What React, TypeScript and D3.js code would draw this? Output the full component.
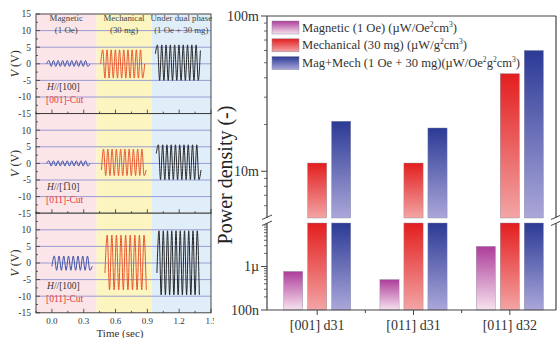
import React from "react";
import * as d3 from "d3";

// ---------- Right chart data ----------
const categories = ["[001] d31", "[011] d31", "[011] d32"];
const seriesNames = [
  "Magnetic (1 Oe) (\u00b5W/Oe\u00b2cm\u00b3)",
  "Mechanical (30 mg) (\u00b5W/g\u00b2cm\u00b3)",
  "Mag+Mech (1 Oe + 30 mg)(\u00b5W/Oe\u00b2g\u00b2cm\u00b3)",
];
const magnetic = [7.7e-7, 5.0e-7, 2.9e-6];
const mechanical = [11.3e-3, 11.3e-3, 42.5e-3];
const magMech = [21e-3, 19e-3, 60e-3];
const upperTicks = [0.1, 0.01];
const upperTickLabels = ["100m", "10m"];
const lowerTicks = [1e-6, 1e-7];
const lowerTickLabels = ["1\u00b5", "100n"];

// ---------- Left chart data (waveform extrema, V) ----------
const timeTicks = [0.0, 0.3, 0.6, 0.9, 1.2, 1.5];
const voltTicks = [15, 10, 5, 0, -5, -10, -15];
const phaseLabels = [
  ["Magnetic", "(1 Oe)"],
  ["Mechanical", "(30 mg)"],
  ["Under dual phase", "(1 Oe + 30 mg)"],
];
const phaseBounds = [0.42, 0.94];
const directionLabels = ["[100]", "[1\u030510]", "[100]"];
const cutLabels = ["[001]-Cut", "[011]-Cut", "[011]-Cut"];

// panel 1
const p1Mag = [0, 1, -0.8, 1, -0.8, 1, -0.8, 1, -0.8, 1, -0.8, 1, -0.8, 1, -0.8, 1, -0.8, 1, -0.8, 0];
const p1Mech = [0, 4.2, -4.3, 4.2, -4.3, 4.2, -4.3, 4.2, -4.3, 4.2, -4.3, 4.2, -4.3, 4.2, -4.3, 4.2, -4.3, 4.2, -4.3, 4.2, -4.3, 0];
const p1Dual = [3, 5.7, -5.0, 5.7, -5.0, 5.7, -5.0, 5.7, -5.0, 5.7, -5.0, 5.7, -5.0, 5.7, -5.0, 5.7, -5.0, 5.7, -5.0, 5.7, -5.0, 4];
// panel 2
const p2Mag = [0, 0.8, -0.8, 0.8, -0.8, 0.8, -0.8, 0.8, -0.8, 0.8, -0.8, 0.8, -0.8, 0.8, -0.8, 0.8, -0.8, 0.8, -0.8, 0];
const p2Mech = [-2, 4.3, -3.7, 4.3, -3.7, 4.3, -3.7, 4.3, -3.7, 4.3, -3.7, 4.3, -3.7, 4.3, -3.7, 4.3, -3.7, 4.3, -3.7, 4.3, -3.7, -2];
const p2Dual = [3, 5.6, -4.9, 5.6, -4.9, 5.6, -4.9, 5.6, -4.9, 5.6, -4.9, 5.6, -4.9, 5.6, -4.9, 5.6, -4.9, 5.6, -4.9, 5.6, -4.9, -2];
// panel 3
const p3Mag = [-1, 2.1, -2.2, 2.1, -2.2, 2.1, -2.2, 2.1, -2.2, 2.1, -2.2, 2.1, -2.2, 2.1, -2.2, 2.1, -2.2, -1];
const p3Mech = [-3, 8.4, -8.1, 8.4, -8.1, 8.4, -8.1, 8.4, -8.1, 8.4, -8.1, 8.4, -8.1, 8.4, -8.1, 8.4, -8.1, 8.4, -8.1];
const p3Dual = [-3, 9.7, -9.6, 9.7, -9.6, 9.7, -9.6, 9.7, -9.6, 9.7, -9.6, 9.7, -9.6, 9.7, -9.6, 9.7, -9.6, 9.7, -9.6, 9.7, -9.6];

const waveSpans = [
  [[-0.05, 0.36], [0.46, 0.875], [0.975, 1.4]],
  [[-0.05, 0.36], [0.467, 0.889], [0.984, 1.406]],
  [[0.0, 0.38], [0.5, 0.89], [0.99, 1.39]],
];
const waveData = [
  [p1Mag, p1Mech, p1Dual],
  [p2Mag, p2Mech, p2Dual],
  [p3Mag, p3Mech, p3Dual],
];
const waveColors = ["#3b4fa6", "#e8542c", "#262626"];

const FONT = "'Liberation Serif', 'Times New Roman', serif";

function withSupers(s: string) {
  const parts: React.ReactNode[] = [];
  let buf = "";
  let k = 0;
  let pendingDy = 0;
  const flush = () => {
    if (buf) {
      parts.push(
        <tspan key={k++} dy={pendingDy || undefined}>
          {buf}
        </tspan>
      );
      pendingDy = 0;
    }
    buf = "";
  };
  for (const ch of s) {
    if (ch === "\u00b2" || ch === "\u00b3") {
      flush();
      parts.push(
        <tspan key={k++} fontSize="0.6em" dy={-5 + pendingDy}>
          {ch === "\u00b2" ? "2" : "3"}
        </tspan>
      );
      pendingDy = 5;
    } else buf += ch;
  }
  flush();
  return parts;
}

function LeftChart() {
  const x0 = 36, x1 = 211;
  const top = 14, ph = 99.6;
  const t = d3.scaleLinear().domain([-0.15, 1.5]).range([x0, x1]);
  const line = d3.line<[number, number]>().curve(d3.curveMonotoneX);
  const minorT = d3.range(-0.15, 1.5001, 0.15);
  const minorV = d3.range(-15, 15.01, 2.5);
  return (
    <g>
      {[0, 1, 2].map((p) => {
        const py = top + p * ph;
        const y = d3.scaleLinear().domain([-15, 15]).range([py + ph, py]);
        const bounds = [x0, t(phaseBounds[0]), t(phaseBounds[1]), x1];
        const bg = ["#fce5e9", "#fcf5c0", "#e0eef9"];
        return (
          <g key={p}>
            {bg.map((c, i) => (
              <rect key={i} x={bounds[i]} y={py} width={bounds[i + 1] - bounds[i]} height={ph} fill={c} />
            ))}
            {[10, 5, 0, -5, -10].map((v) => (
              <line key={v} x1={x0} x2={x1} y1={y(v)} y2={y(v)} stroke="#8e93cf" strokeWidth={0.9} />
            ))}
            {waveData[p].map((vals, w) => {
              const [s, e] = waveSpans[p][w];
              const ts = d3.scaleLinear().domain([0, vals.length - 1]).range([s, e]);
              const pts = vals.map((v, i) => [t(ts(i)), y(v)] as [number, number]);
              return <path key={w} d={line(pts) || ""} fill="none" stroke={waveColors[w]} strokeWidth={1} />;
            })}
            {minorV.map((v, i) => (
              <line key={"yv" + i} x1={x0} x2={x0 + (Math.abs(v % 5) < 0.01 ? 4 : 2)} y1={y(v)} y2={y(v)} stroke="#333" strokeWidth={0.8} />
            ))}
            {minorT.map((v, i) => (
              <line key={"xt" + i} x1={t(v)} x2={t(v)} y1={py + ph} y2={py + ph - (i % 2 === 1 ? 4 : 2)} stroke="#333" strokeWidth={0.8} />
            ))}
            <rect x={x0} y={py} width={x1 - x0} height={ph} fill="none" stroke="#333" strokeWidth={0.9} />
            {voltTicks
              .filter((v) => !(p > 0 && v === 15))
              .map((v) => (
                <text key={v} x={31} y={y(v) + 3.3} fontSize={9.5} textAnchor="end" fill="#333" fontFamily={FONT}>
                  {v}
                </text>
              ))}
            <text
              transform={`translate(${19},${py + ph / 2}) rotate(-90)`}
              fontSize={12}
              textAnchor="middle"
              fill="#333"
              fontFamily={FONT}
            >
              <tspan fontStyle="italic">V</tspan> (V)
            </text>
            {p === 0 &&
              phaseLabels.map((lab, i) => {
                const cx = (bounds[i] + bounds[i + 1]) / 2;
                return (
                  <g key={i}>
                    <text x={cx} y={py + 7} fontSize={8.8} textAnchor="middle" fill="#444" fontFamily={FONT}>
                      {lab[0]}
                    </text>
                    <text x={cx} y={py + 18.5} fontSize={8.8} textAnchor="middle" fill="#444" fontFamily={FONT}>
                      {lab[1]}
                    </text>
                  </g>
                );
              })}
            <text x={47} y={py + 76} fontSize={9.5} fill="#333" fontFamily={FONT}>
              <tspan fontStyle="italic">H</tspan>//{directionLabels[p]}
            </text>
            <text x={46} y={py + 89} fontSize={9.5} fill="#e83a3a" fontFamily={FONT}>
              {cutLabels[p]}
            </text>
          </g>
        );
      })}
      {timeTicks.map((v) => (
        <text key={v} x={t(v)} y={top + 3 * ph + 11} fontSize={9} textAnchor="middle" fill="#333" fontFamily={FONT}>
          {v.toFixed(1)}
        </text>
      ))}
      <text x={120} y={337} fontSize={11} textAnchor="middle" fill="#333" fontFamily={FONT}>
        Time (sec)
      </text>
    </g>
  );
}

function RightChart() {
  const L = 267, R = 556, T = 16, B = 310;
  const gapTop = 218, gapBot = 223;
  const yU = d3.scaleLog().domain([5e-3, 0.1]).range([gapTop, T]);
  const yL = d3.scaleLog().domain([1e-7, 1e-5]).range([B, gapBot]);
  const x = d3.scaleBand().domain(categories).range([269, 558]);
  const xs = d3.scaleBand().domain(seriesNames).range([-36, 36]).paddingInner(0.2).paddingOuter(0.1);
  const series = [magnetic, mechanical, magMech];
  const grads = [
    ["#ad3d9a", "#f7e2ee"],
    ["#e31e1e", "#f3a5a5"],
    ["#2b3a95", "#aba7da"],
  ];
  const legendWidths = [155, 165, 218];
  const minorUpper = [6e-3, 7e-3, 8e-3, 9e-3, 2e-2, 3e-2, 4e-2, 5e-2, 6e-2, 7e-2, 8e-2, 9e-2];
  const minorLower = [2e-7, 3e-7, 4e-7, 5e-7, 6e-7, 7e-7, 8e-7, 9e-7, 2e-6, 3e-6, 4e-6, 5e-6, 6e-6, 7e-6, 8e-6, 9e-6];
  const stroke = "#444";
  return (
    <g>
      <defs>
        {grads.map((g, i) => (
          <linearGradient key={i} id={"g" + i} x1="0" y1="0" x2="0" y2="1">
            <stop offset="0" stopColor={g[0]} />
            <stop offset="1" stopColor={g[1]} />
          </linearGradient>
        ))}
      </defs>
      <rect x={214} y={0} width={346} height={338} fill="#fff" />
      {categories.map((c, ci) => (
        <g key={c}>
          {series.map((vals, si) => {
            const v = vals[ci];
            const bx = (x(c) as number) + x.bandwidth() / 2 + (xs(seriesNames[si]) as number);
            const w = xs.bandwidth();
            const rects: React.ReactNode[] = [];
            if (v > 1e-5) {
              rects.push(<rect key="l" x={bx} y={gapBot} width={w} height={B - gapBot} fill={`url(#g${si})`} stroke="#8a8aa0" strokeWidth={0.4} />);
              rects.push(<rect key="u" x={bx} y={yU(v)} width={w} height={gapTop - yU(v)} fill={`url(#g${si})`} stroke="#8a8aa0" strokeWidth={0.4} />);
            } else {
              rects.push(<rect key="l" x={bx} y={yL(v)} width={w} height={B - yL(v)} fill={`url(#g${si})`} stroke="#8a8aa0" strokeWidth={0.4} />);
            }
            return <g key={si}>{rects}</g>;
          })}
        </g>
      ))}
      {/* frame */}
      <line x1={L} x2={L} y1={T} y2={gapTop} stroke={stroke} strokeWidth={1.2} />
      <line x1={L} x2={L} y1={gapBot} y2={B} stroke={stroke} strokeWidth={1.2} />
      <line x1={R} x2={R} y1={T} y2={gapTop} stroke={stroke} strokeWidth={1.2} />
      <line x1={R} x2={R} y1={gapBot} y2={B} stroke={stroke} strokeWidth={1.2} />
      <line x1={L} x2={R} y1={T} y2={T} stroke={stroke} strokeWidth={1.2} />
      <line x1={L} x2={R} y1={B} y2={B} stroke={stroke} strokeWidth={1.2} />
      {[L, R].map((xx) => (
        <g key={xx}>
          <line x1={xx - 5} x2={xx + 5} y1={gapTop + 1.5} y2={gapTop - 3} stroke={stroke} strokeWidth={1} />
          <line x1={xx - 5} x2={xx + 5} y1={gapBot + 2.5} y2={gapBot - 2} stroke={stroke} strokeWidth={1} />
        </g>
      ))}
      {upperTicks.map((v, i) => (
        <g key={v}>
          <line x1={L - 6} x2={L} y1={yU(v)} y2={yU(v)} stroke={stroke} strokeWidth={1} />
          <text x={L - 8} y={yU(v) + 4.5} fontSize={14} textAnchor="end" fill="#333" fontFamily={FONT}>
            {upperTickLabels[i]}
          </text>
        </g>
      ))}
      {lowerTicks.map((v, i) => (
        <g key={v}>
          <line x1={L - 6} x2={L} y1={yL(v)} y2={yL(v)} stroke={stroke} strokeWidth={1} />
          <text x={L - 8} y={yL(v) + 4.5} fontSize={14} textAnchor="end" fill="#333" fontFamily={FONT}>
            {lowerTickLabels[i]}
          </text>
        </g>
      ))}
      {minorUpper.map((v) => (
        <line key={v} x1={L - 3} x2={L} y1={yU(v)} y2={yU(v)} stroke={stroke} strokeWidth={0.8} />
      ))}
      {minorLower.map((v) => (
        <line key={v} x1={L - 3} x2={L} y1={yL(v)} y2={yL(v)} stroke={stroke} strokeWidth={0.8} />
      ))}
      {categories.map((c, i) => {
        const cx = (x(c) as number) + x.bandwidth() / 2;
        return (
          <g key={c}>
            <line x1={cx} x2={cx} y1={B} y2={B + 5} stroke={stroke} strokeWidth={1} />
            {i > 0 && (
              <line x1={x(c) as number} x2={x(c) as number} y1={B} y2={B + 3} stroke={stroke} strokeWidth={1} />
            )}
            <text x={cx} y={B + 20} fontSize={14} textAnchor="middle" fill="#333" fontFamily={FONT}>
              {c}
            </text>
          </g>
        );
      })}
      <text
        transform={`translate(${232},${175}) rotate(-90)`}
        fontSize={20}
        textAnchor="middle"
        fill="#222"
        fontFamily={FONT}
      >
        Power density (-)
      </text>
      {seriesNames.map((s, i) => {
        const ly = 21 + i * 17.8;
        return (
          <g key={s}>
            <rect x={272} y={ly} width={27} height={13} fill={`url(#g${i})`} stroke="#8a8aa0" strokeWidth={0.5} />
            <text
              x={302}
              y={ly + 10.5}
              fontSize={12.5}
              fill="#333"
              fontFamily={FONT}
              textLength={legendWidths[i]}
              lengthAdjust="spacingAndGlyphs"
            >
              {withSupers(s)}
            </text>
          </g>
        );
      })}
    </g>
  );
}

export default function App() {
  return (
    <svg width={560} height={338} style={{ position: "absolute", left: 0, top: 0, background: "#fff" }}>
      <rect width={560} height={338} fill="#fff" />
      <LeftChart />
      <RightChart />
    </svg>
  );
}
